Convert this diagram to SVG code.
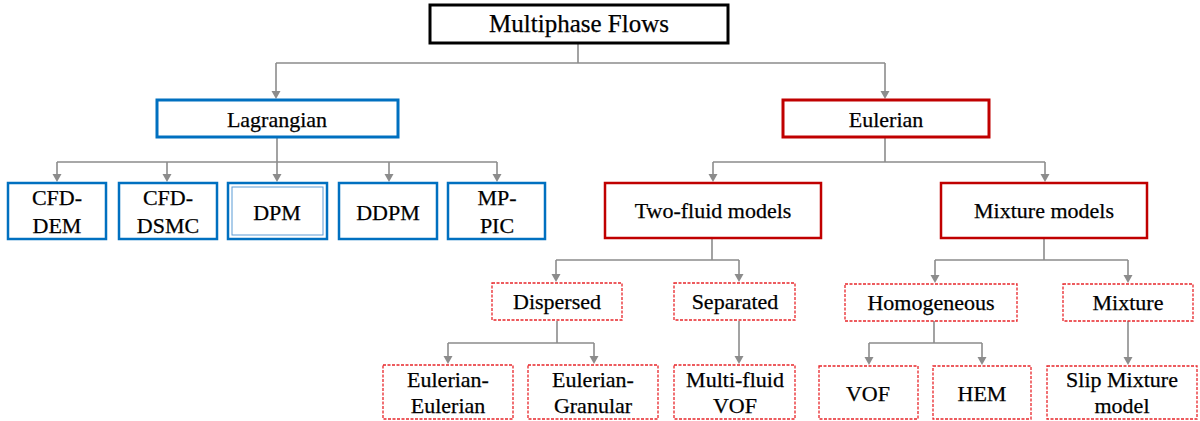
<svg xmlns="http://www.w3.org/2000/svg" width="1200" height="421" viewBox="0 0 1200 421">
<defs>
<style>
text{font-family:"Liberation Serif","Times New Roman",serif;font-size:22px;fill:#000;stroke:#000;stroke-width:0.25;text-anchor:middle}
.top{fill:#fff;stroke:#000;stroke-width:3}
.blue{fill:#fff;stroke:#0070C0;stroke-width:3}
.blue2{fill:#fff;stroke:#0070C0;stroke-width:2.5}
.red{fill:#fff;stroke:#C00000;stroke-width:3}
.red2{fill:#fff;stroke:#C00000;stroke-width:2.5}
.dash{fill:#fff;stroke:#E8262A;stroke-width:1.3;stroke-dasharray:3 1.5}
.c{fill:none;stroke:#8C8C8C;stroke-width:1.6}
.h{fill:#8C8C8C}
</style>
</defs>
<g id="connectors">
<path class="c" d="M578,43 V63 M276,63 H885"/>
<path class="c" d="M277,137 V162 M57,162 H497"/>
<path class="c" d="M885,137 V162 M713,162 H1045"/>
<path class="c" d="M712,238 V260 M556,260 H739"/>
<path class="c" d="M1044,238 V260 M935,260 H1128"/>
<path class="c" d="M557,321 V343 M448,343 H594"/>
<path class="c" d="M934,321 V343 M869,343 H982"/>
<line class="c" x1="276" y1="63" x2="276" y2="92"/><path class="h" d="M271.5,91 L280.5,91 L276,99 Z"/>
<line class="c" x1="885" y1="63" x2="885" y2="92"/><path class="h" d="M880.5,91 L889.5,91 L885,99 Z"/>
<line class="c" x1="57" y1="162" x2="57" y2="175"/><path class="h" d="M52.5,174 L61.5,174 L57,182 Z"/>
<line class="c" x1="167" y1="162" x2="167" y2="175"/><path class="h" d="M162.5,174 L171.5,174 L167,182 Z"/>
<line class="c" x1="277" y1="162" x2="277" y2="175"/><path class="h" d="M272.5,174 L281.5,174 L277,182 Z"/>
<line class="c" x1="389" y1="162" x2="389" y2="175"/><path class="h" d="M384.5,174 L393.5,174 L389,182 Z"/>
<line class="c" x1="497" y1="162" x2="497" y2="175"/><path class="h" d="M492.5,174 L501.5,174 L497,182 Z"/>
<line class="c" x1="713" y1="162" x2="713" y2="175"/><path class="h" d="M708.5,174 L717.5,174 L713,182 Z"/>
<line class="c" x1="1045" y1="162" x2="1045" y2="175"/><path class="h" d="M1040.5,174 L1049.5,174 L1045,182 Z"/>
<line class="c" x1="556" y1="260" x2="556" y2="275"/><path class="h" d="M551.5,274 L560.5,274 L556,282 Z"/>
<line class="c" x1="739" y1="260" x2="739" y2="275"/><path class="h" d="M734.5,274 L743.5,274 L739,282 Z"/>
<line class="c" x1="935" y1="260" x2="935" y2="276"/><path class="h" d="M930.5,275 L939.5,275 L935,283 Z"/>
<line class="c" x1="1128" y1="260" x2="1128" y2="276"/><path class="h" d="M1123.5,275 L1132.5,275 L1128,283 Z"/>
<line class="c" x1="448" y1="343" x2="448" y2="357"/><path class="h" d="M443.5,356 L452.5,356 L448,364 Z"/>
<line class="c" x1="594" y1="343" x2="594" y2="357"/><path class="h" d="M589.5,356 L598.5,356 L594,364 Z"/>
<line class="c" x1="739" y1="321" x2="739" y2="357"/><path class="h" d="M734.5,356 L743.5,356 L739,364 Z"/>
<line class="c" x1="869" y1="343" x2="869" y2="358"/><path class="h" d="M864.5,357 L873.5,357 L869,365 Z"/>
<line class="c" x1="982" y1="343" x2="982" y2="358"/><path class="h" d="M977.5,357 L986.5,357 L982,365 Z"/>
<line class="c" x1="1128" y1="321" x2="1128" y2="358"/><path class="h" d="M1123.5,357 L1132.5,357 L1128,365 Z"/>
</g>
<g id="multiphase"><rect class="top" x="430" y="5" width="298" height="38"/><text x="579" y="32" style="font-size:25px">Multiphase Flows</text></g>
<g id="lagrangian"><rect class="blue" x="157" y="100" width="241" height="37"/><text x="277" y="127">Lagrangian</text></g>
<g id="eulerian"><rect class="red" x="783" y="100" width="206" height="37"/><text x="886" y="127">Eulerian</text></g>
<g id="cfd-dem"><rect class="blue2" x="8" y="183" width="98" height="56"/><text x="57" y="205">CFD-</text><text x="57" y="233">DEM</text></g>
<g id="cfd-dsmc"><rect class="blue2" x="119" y="183" width="98" height="56"/><text x="168" y="205">CFD-</text><text x="168" y="233">DSMC</text></g>
<g id="dpm"><rect class="blue2" x="228" y="183" width="99" height="56"/><rect x="232" y="187" width="91" height="48" fill="none" stroke="#5A9BD5" stroke-width="1"/><text x="277" y="220">DPM</text></g>
<g id="ddpm"><rect class="blue2" x="339" y="183" width="98" height="56"/><text x="388" y="220">DDPM</text></g>
<g id="mp-pic"><rect class="blue2" x="448" y="183" width="97" height="56"/><text x="497" y="205">MP-</text><text x="497" y="233">PIC</text></g>
<g id="two-fluid"><rect class="red2" x="605" y="183" width="216" height="55"/><text x="713" y="218">Two-fluid  models</text></g>
<g id="mixture-models"><rect class="red2" x="941" y="183" width="206" height="55"/><text x="1044" y="218">Mixture models</text></g>
<g id="dispersed"><rect class="dash" x="492" y="283" width="130" height="37"/><text x="557" y="309">Dispersed</text></g>
<g id="separated"><rect class="dash" x="674" y="283" width="121" height="37"/><text x="735" y="309">Separated</text></g>
<g id="homogeneous"><rect class="dash" x="845" y="284" width="172" height="37"/><text x="931" y="310">Homogeneous</text></g>
<g id="mixture"><rect class="dash" x="1063" y="284" width="130" height="37"/><text x="1128" y="310">Mixture</text></g>
<g id="eulerian-eulerian"><rect class="dash" x="383" y="365" width="130" height="54"/><text x="448" y="387">Eulerian-</text><text x="448" y="413">Eulerian</text></g>
<g id="eulerian-granular"><rect class="dash" x="528" y="365" width="130" height="54"/><text x="593" y="387">Eulerian-</text><text x="593" y="413">Granular</text></g>
<g id="multi-fluid-vof"><rect class="dash" x="674" y="365" width="121" height="54"/><text x="735" y="387">Multi-fluid</text><text x="735" y="413">VOF</text></g>
<g id="vof"><rect class="dash" x="819" y="366" width="99" height="53"/><text x="868" y="401">VOF</text></g>
<g id="hem"><rect class="dash" x="933" y="366" width="98" height="53"/><text x="982" y="401">HEM</text></g>
<g id="slip-mixture"><rect class="dash" x="1047" y="366" width="150" height="53"/><text x="1122" y="387">Slip  Mixture</text><text x="1122" y="413">model</text></g>
</svg>
